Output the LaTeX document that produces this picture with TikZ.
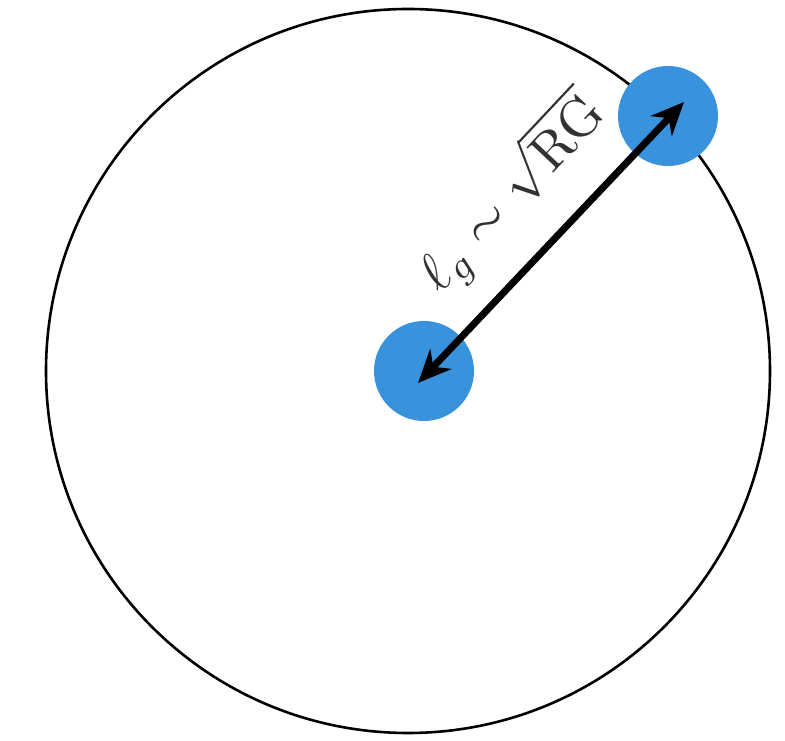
\documentclass[tikz,border=0pt]{standalone}
\usetikzlibrary{arrows.meta}
\definecolor{dotblue}{RGB}{56,147,220}
\definecolor{labelgray}{RGB}{50,50,50}
\tikzset{
  bigring/.style={circle, draw=black, line width=2.6pt, minimum size=724pt, inner sep=0pt},
  dot/.style={circle, fill=dotblue, minimum size=100pt, inner sep=0pt},
  dblarrow/.style={line width=7pt, {Stealth[length=33pt,width=29pt]}-{Stealth[length=33pt,width=29pt]}},
  lbl/.style={text=labelgray, font=\normalsize, scale=5.4, rotate=46.8, anchor=base, inner sep=0pt}
}
\begin{document}
\begin{tikzpicture}[x=1pt,y=1pt]
  \useasboundingbox (0,0) rectangle (785,741);
  \node[bigring] (big) at (408,370) {};
  \node[dot] (c) at (424,370) {};
  \node[dot] (t) at (668,625) {};
  \coordinate (a1) at (418,358);
  \coordinate (a2) at (684,639);
  \draw[dblarrow] (a1) -- (a2);
  \node[lbl] (l) at (524,536) {$\ell_g \sim \sqrt{\mathrm{RG}}$};
\end{tikzpicture}
\end{document}
